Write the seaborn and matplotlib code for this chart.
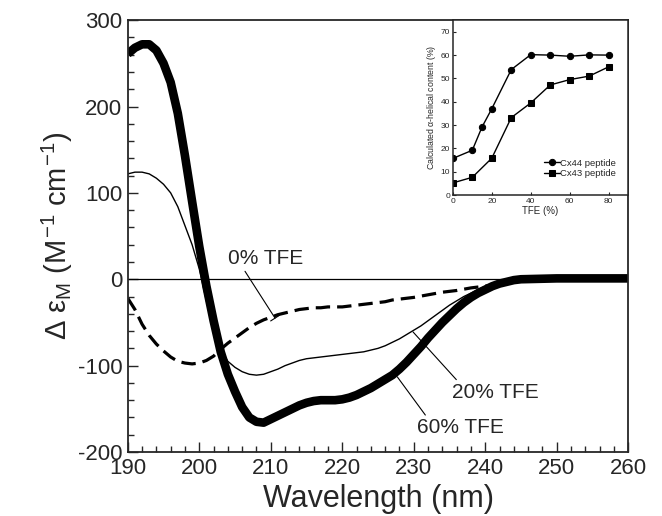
import numpy as np
import pandas as pd
import matplotlib
matplotlib.use("Agg")
import matplotlib.pyplot as plt
import seaborn as sns

# --- CD spectra ---
wl_60 = [190, 191, 192, 193, 194, 195, 196, 197, 198, 199, 200, 201, 202, 203, 204, 205,
         206, 207, 208, 209, 210, 211, 212, 213, 214, 215, 216, 217, 218, 219, 220, 221,
         222, 223, 224, 225, 226, 227, 228, 229, 230, 231, 232, 233, 234, 235, 236, 237,
         238, 239, 240, 241, 242, 243, 244, 245, 250, 255, 260]
cd_60 = [261, 268, 272, 272, 265, 250, 228, 192, 143, 90, 38, -8, -48, -84, -110, -130,
         -148, -160, -165, -166, -162, -158, -154, -150, -146, -143, -141, -140, -140, -140, -139, -137,
         -134, -130, -126, -121, -116, -111, -104, -96, -87, -78, -68, -59, -50, -42, -34, -27,
         -21, -16, -12, -8, -5, -3, -1, 0, 1, 1, 1]

wl_20 = [190, 191, 192, 193, 194, 195, 196, 197, 198, 199, 200, 201, 202, 203, 204, 205,
         206, 207, 208, 209, 210, 211, 212, 213, 214, 215, 216, 217, 218, 219, 220, 221,
         222, 223, 224, 225, 226, 227, 228, 229, 230, 231, 232, 233, 234, 235, 236, 237,
         238, 239, 240, 242, 244, 250, 260]
cd_20 = [122, 124, 124, 122, 117, 110, 100, 84, 62, 40, 12, -25, -60, -82, -95, -102,
         -107, -110, -111, -110, -107, -104, -100, -97, -94, -92, -91, -90, -89, -88, -87, -86,
         -85, -84, -82, -80, -77, -73, -69, -64, -59, -54, -48, -42, -36, -30, -25, -20,
         -16, -12, -8, -3, 0, 1, 1]

wl_0 = [190, 191, 192, 193, 194, 195, 196, 197, 198, 199, 200, 201, 202, 203, 204, 205,
        206, 207, 208, 209, 210, 211, 212, 213, 214, 215, 216, 217, 218, 219, 220, 221,
        222, 223, 224, 225, 226, 227, 228, 229, 230, 232, 234, 236, 238, 240, 242, 244, 245]
cd_0 = [-22, -35, -52, -65, -75, -83, -90, -95, -97, -98, -97, -94, -89, -81, -74, -68,
        -62, -56, -51, -47, -44, -41, -39, -37, -35, -34, -33, -33, -32, -32, -32, -31,
        -30, -29, -28, -27, -26, -24, -23, -22, -21, -18, -15, -13, -10, -8, -5, -2, -1]

# --- inset: helical content vs TFE ---
tfe_cx44 = [0, 10, 15, 20, 30, 40, 50, 60, 70, 80]
helix_cx44 = [15.7, 19.2, 29.2, 37.0, 53.8, 60.2, 60.0, 59.5, 60.1, 60.0]
tfe_cx43 = [0, 10, 20, 30, 40, 50, 60, 70, 80]
helix_cx43 = [5.2, 7.6, 15.8, 33.2, 39.5, 47.2, 49.5, 51.0, 55.0]

sns.set_style("ticks")
plt.rcParams['font.family'] = ['Liberation Sans', 'DejaVu Sans']
plt.rcParams['mathtext.fontset'] = 'custom'
plt.rcParams['mathtext.rm'] = 'Liberation Sans'
plt.rcParams['mathtext.it'] = 'Liberation Sans'
plt.rcParams['axes.unicode_minus'] = False

fig = plt.figure(figsize=(6.62, 5.16), dpi=100)
ax = fig.add_axes([0.193, 0.124, 0.756, 0.837])

ax.axhline(0, color='black', linewidth=0.9, zorder=1)
sns.lineplot(x=wl_0, y=cd_0, ax=ax, color='black', linewidth=2.3,
             linestyle=(0, (4.5, 2.2)), estimator=None)
sns.lineplot(x=wl_20, y=cd_20, ax=ax, color='black', linewidth=1.0, estimator=None,
             solid_joinstyle='round')
sns.lineplot(x=wl_60, y=cd_60, ax=ax, color='black', linewidth=6.2, estimator=None,
             solid_capstyle='butt', solid_joinstyle='round')

ax.set_xlim(190, 260)
ax.set_ylim(-200, 300)
ax.set_xticks(np.arange(190, 261, 10))
ax.set_xticks(np.arange(190, 261, 2), minor=True)
ax.set_yticks(np.arange(-200, 301, 100))
ax.set_yticks(np.arange(-200, 301, 20), minor=True)
ax.tick_params(which='both', direction='in', top=False, right=False, width=1.0)
ax.tick_params(which='major', length=7, labelsize=16, pad=4)
ax.tick_params(which='minor', length=4)
for s in ax.spines.values():
    s.set_linewidth(1.3)
    s.set_visible(True)

ax.set_xlabel('Wavelength (nm)', fontsize=22, labelpad=4)
ax.set_ylabel(r'$\Delta\ \varepsilon_{M}\ (M^{-1}\ cm^{-1})$', fontsize=21, labelpad=2)

# annotations
ax.annotate('0% TFE', xy=(210.6, -45), xytext=(204.0, 24), fontsize=15,
            va='center', ha='left',
            arrowprops=dict(arrowstyle='-[, widthB=0.25, lengthB=0', color='black',
                            lw=0.8, shrinkA=0, shrinkB=0, relpos=(0.2, 0.0)))
ax.annotate('20% TFE', xy=(229.9, -61), xytext=(235.4, -131), fontsize=15,
            va='center', ha='left',
            arrowprops=dict(arrowstyle='-', color='black', lw=0.8,
                            shrinkA=0, shrinkB=0, relpos=(0.08, 1.0)))
ax.annotate('60% TFE', xy=(227.7, -113), xytext=(230.5, -172), fontsize=15,
            va='center', ha='left',
            arrowprops=dict(arrowstyle='-', color='black', lw=0.8,
                            shrinkA=0, shrinkB=0, relpos=(0.12, 1.0)))

# inset
axi = fig.add_axes([0.684, 0.622, 0.265, 0.339])
sns.lineplot(x=tfe_cx44, y=helix_cx44, ax=axi, color='black', linewidth=1.0,
             marker='o', markersize=4.5, markeredgecolor='black', label='Cx44 peptide',
             estimator=None)
sns.lineplot(x=tfe_cx43, y=helix_cx43, ax=axi, color='black', linewidth=1.0,
             marker='s', markersize=5, markeredgecolor='black', label='Cx43 peptide',
             estimator=None)
axi.set_xlim(0, 90)
axi.set_ylim(0, 75)
axi.set_xticks([0, 20, 40, 60, 80])
axi.set_yticks(np.arange(0, 71, 10))
axi.tick_params(direction='in', length=2.5, width=0.8, labelsize=6, pad=2)
for s in axi.spines.values():
    s.set_linewidth(1.1)
axi.set_xlabel('TFE (%)', fontsize=7, labelpad=1)
axi.set_ylabel(r'Calculated $\alpha$-helical content (%)', fontsize=6.3, labelpad=2)
axi.legend(loc='lower right', bbox_to_anchor=(0.97, 0.06), frameon=False, fontsize=6.8,
           handlelength=1.6, handletextpad=0.1, labelspacing=0.15, borderpad=0.2)

fig.savefig('out.png', dpi=100)
